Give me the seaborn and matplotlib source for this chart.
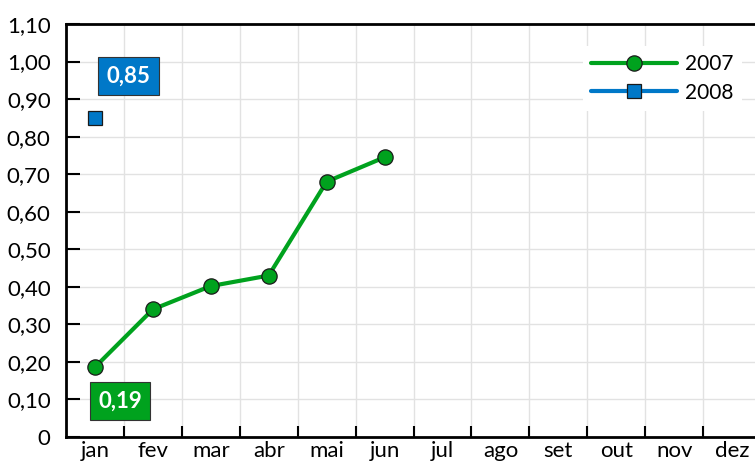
import numpy as np
import pandas as pd
import matplotlib
matplotlib.use("Agg")
import matplotlib.pyplot as plt
from matplotlib.ticker import FixedLocator, FuncFormatter
import seaborn as sns

months = ["jan", "fev", "mar", "abr", "mai", "jun",
          "jul", "ago", "set", "out", "nov", "dez"]
values_2007 = [0.186, 0.340, 0.402, 0.430, 0.680, 0.745]
values_2008 = [0.85]
label_2007 = "0,19"
label_2008 = "0,85"

GREEN = "#00A21E"
BLUE = "#0078C8"


def build_frame() -> pd.DataFrame:
    rows = []
    for i, v in enumerate(values_2007):
        rows.append({"pos": i, "Mes": months[i], "Valor": v, "Ano": "2007"})
    for i, v in enumerate(values_2008):
        rows.append({"pos": i, "Mes": months[i], "Valor": v, "Ano": "2008"})
    return pd.DataFrame(rows)


def main():
    df = build_frame()

    sns.set_theme(style="white")
    plt.rcParams["font.family"] = ["Lato", "DejaVu Sans"]
    plt.rcParams["text.color"] = "black"
    plt.rcParams["xtick.color"] = "black"
    plt.rcParams["ytick.color"] = "black"

    fig = plt.figure(figsize=(7.55, 4.74), dpi=100)
    ax = fig.add_axes([66 / 755, 37 / 474, 695 / 755, 413 / 474])

    sns.lineplot(
        data=df, x="pos", y="Valor", hue="Ano", style="Ano",
        palette={"2007": GREEN, "2008": BLUE},
        markers={"2007": "o", "2008": "s"}, dashes=False,
        linewidth=3, markeredgecolor="#1a1a1a", markeredgewidth=0.9,
        ax=ax,
    )
    # marker sizes
    for line in ax.lines:
        if line.get_marker() == "o":
            line.set_markersize(11)
        elif line.get_marker() == "s":
            line.set_markersize(10)

    ax.set_xlim(-0.5, 11.5)
    ax.set_ylim(0, 1.10)

    # month labels at centres, ticks/grid at boundaries
    ax.xaxis.set_major_locator(FixedLocator(np.arange(12)))
    ax.set_xticklabels(months)
    ax.xaxis.set_minor_locator(FixedLocator(np.arange(12) + 0.5))
    ax.tick_params(axis="x", which="major", length=0, labelsize=16, pad=3)
    ax.tick_params(axis="x", which="minor", direction="in", length=8,
                   width=1.5, color="black", bottom=True)

    ax.yaxis.set_major_locator(FixedLocator(np.arange(0, 1.101, 0.1)))
    ax.yaxis.set_major_formatter(FuncFormatter(
        lambda v, p: "0" if abs(v) < 1e-9 else f"{v:.2f}".replace(".", ",")))
    ax.tick_params(axis="y", direction="in", length=10, width=1.5,
                   color="black", labelsize=16, pad=11, left=True)

    ax.grid(False)
    ax.grid(True, axis="y", which="major", color="#e2e2e2", linewidth=1)
    ax.grid(True, axis="x", which="minor", color="#e2e2e2", linewidth=1)

    for side in ["left", "bottom", "top"]:
        ax.spines[side].set_color("black")
        ax.spines[side].set_linewidth(2)
    ax.spines["right"].set_visible(False)

    ax.set_xlabel("")
    ax.set_ylabel("")

    # value boxes
    ax.annotate(label_2008, xy=(0, values_2008[0]), xytext=(24, 30),
                textcoords="offset points", ha="center", va="center",
                fontsize=16, fontweight="bold", color="white",
                bbox=dict(boxstyle="square,pad=0.38", fc=BLUE, ec="#333333", lw=0.8))
    ax.annotate(label_2007, xy=(0, values_2007[0]), xytext=(18, -24.5),
                textcoords="offset points", ha="center", va="center",
                fontsize=16, fontweight="bold", color="white",
                bbox=dict(boxstyle="square,pad=0.38", fc=GREEN, ec="#333333", lw=0.8))

    leg = ax.legend(
        loc="upper right", bbox_to_anchor=(742 / 755, 1 - 46 / 474),
        bbox_transform=fig.transFigure, frameon=True, fontsize=15,
        handlelength=4.1, handletextpad=0.4, borderaxespad=0,
        fancybox=False, labelspacing=0.4, title=None,
    )
    leg.get_frame().set_facecolor("white")
    leg.get_frame().set_edgecolor("none")
    leg.get_frame().set_alpha(1)

    fig.savefig("out.png", dpi=100)
    plt.close(fig)


if __name__ == "__main__":
    main()
